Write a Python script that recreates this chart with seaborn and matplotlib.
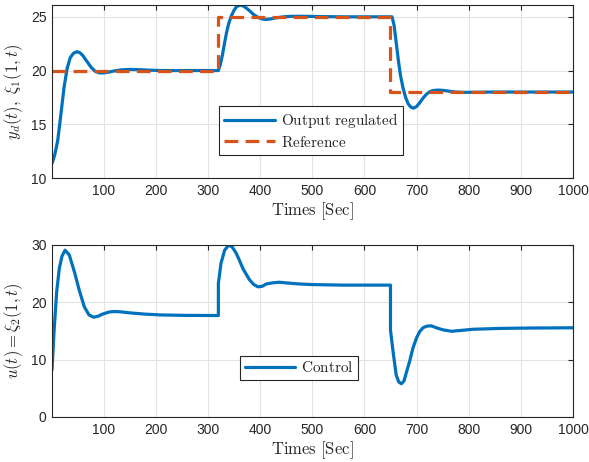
import matplotlib
matplotlib.use("Agg")
import matplotlib.pyplot as plt
import numpy as np
import pandas as pd
import seaborn as sns

# ---- data ----
t_out = [1, 6, 12, 18, 24, 30, 36, 42, 48, 54, 60, 68, 76, 84, 92, 100, 110, 120,
         135, 150, 165, 185, 210, 320,
         324, 328, 332, 336, 340, 345, 350, 355, 362, 368, 374, 380, 388, 396, 404,
         412, 420, 430, 445, 460, 480, 520, 560, 653,
         657, 661, 665, 669, 674, 679, 684, 689, 694, 700, 706, 712, 719, 726, 733,
         742, 752, 762, 775, 790, 810, 850, 1000]
y_out = [11.35, 12.1, 13.5, 15.9, 18.4, 20.2, 21.2, 21.6, 21.75, 21.68, 21.4, 20.85,
         20.3, 19.92, 19.78, 19.78, 19.86, 19.96, 20.07, 20.1, 20.09, 20.04, 20.0, 20.0,
         20.6, 21.5, 22.6, 23.6, 24.4, 25.1, 25.6, 25.95, 26.1, 26.0, 25.8, 25.55, 25.2,
         24.95, 24.8, 24.76, 24.8, 24.9, 25.0, 25.05, 25.05, 25.02, 25.0, 25.0,
         24.2, 22.6, 21.0, 19.6, 18.4, 17.5, 16.9, 16.6, 16.5, 16.65, 17.0, 17.4, 17.8,
         18.05, 18.15, 18.18, 18.15, 18.08, 18.0, 17.97, 17.98, 18.0, 18.0]

t_ref = [1, 320, 320, 650, 650, 1000]
y_ref = [20, 20, 25, 25, 18, 18]

t_ctl = [1, 5, 10, 15, 20, 26, 34, 44, 53, 63, 72, 81, 90, 98, 110, 120, 132, 146,
         178, 210, 260, 320,
         320, 325, 332, 340, 347, 354, 360, 367, 374, 380, 388, 396, 404, 412, 424,
         437, 455, 476, 500, 560, 650,
         650, 655, 661, 666, 671, 676, 680, 687, 693, 700, 706, 713, 720, 728, 740,
         751, 767, 785, 808, 860, 920, 1000]
u_ctl = [8.2, 15.0, 21.9, 25.9, 28.0, 29.1, 28.3, 25.3, 22.2, 19.2, 17.8, 17.4, 17.6,
         17.95, 18.3, 18.4, 18.35, 18.2, 17.95, 17.8, 17.72, 17.7,
         23.3, 26.8, 29.1, 30.0, 29.6, 28.6, 27.4, 25.9, 24.8, 23.9, 23.1, 22.7, 22.8,
         23.2, 23.4, 23.5, 23.35, 23.2, 23.1, 23.0, 23.0,
         15.2, 11.4, 7.3, 6.1, 5.8, 6.3, 7.6, 9.8, 12.0, 13.8, 14.9, 15.6, 15.85, 15.9,
         15.5, 15.2, 14.95, 15.1, 15.3, 15.45, 15.52, 15.56]

x_ticks = [100, 200, 300, 400, 500, 600, 700, 800, 900, 1000]
y1_ticks = [10, 15, 20, 25]
y2_ticks = [0, 10, 20, 30]

BLUE = "#0072BD"
ORANGE = "#D95319"
DARK = "#262626"

sns.set_theme(style="white")
plt.rcParams["font.family"] = ["Liberation Sans", "DejaVu Sans"]
plt.rcParams["mathtext.fontset"] = "cm"

df_out = pd.DataFrame({"t": t_out, "y": y_out})
df_ref = pd.DataFrame({"t": t_ref, "y": y_ref})
df_ctl = pd.DataFrame({"t": t_ctl, "u": u_ctl})

fig = plt.figure(figsize=(5.89, 4.62), dpi=100)
ax1 = fig.add_axes([52 / 589, 1 - 178 / 462, 521 / 589, 173 / 462])
ax2 = fig.add_axes([52 / 589, 1 - 417 / 462, 521 / 589, 172 / 462])

sns.lineplot(data=df_out, x="t", y="y", ax=ax1, estimator=None, sort=False,
             color=BLUE, linewidth=2.3, label=r"$\mathrm{Output\ regulated}$")
sns.lineplot(data=df_ref, x="t", y="y", ax=ax1, estimator=None, sort=False,
             color=ORANGE, linewidth=2.3, dashes=False, label=r"$\mathrm{Reference}$")
ax1.lines[-1].set_dashes([4.3, 2.3])
sns.lineplot(data=df_ctl, x="t", y="u", ax=ax2, estimator=None, sort=False,
             color=BLUE, linewidth=2.3, label=r"$\mathrm{Control}$")

for ax, yt in ((ax1, y1_ticks), (ax2, y2_ticks)):
    ax.set_xlim(1, 1000)
    ax.set_xticks(x_ticks)
    ax.set_yticks(yt)
    ax.grid(True, color="#e3e3e3", linewidth=0.8)
    ax.set_axisbelow(True)
    for s in ax.spines.values():
        s.set_color(DARK)
        s.set_linewidth(0.8)
    ax.tick_params(direction="in", length=3.5, width=0.8, color=DARK,
                   top=True, right=True, labelsize=10, labelcolor=DARK, pad=4)
    ax.set_xlabel(r"$\mathrm{Times\ [Sec]}$", fontsize=12, color=DARK, labelpad=2)

ax1.set_ylim(10, 26.1)
ax2.set_ylim(0, 30)
ax1.set_ylabel(r"$y_d(t),\ \xi_1(1,t)$", fontsize=12, color=DARK, labelpad=4)
ax2.set_ylabel(r"$u(t)=\xi_2(1,t)$", fontsize=12, color=DARK, labelpad=4)

leg1 = ax1.legend(loc="lower left", bbox_to_anchor=(0.3205, 0.133), fontsize=11,
                  frameon=True, fancybox=False, edgecolor=DARK, framealpha=1,
                  handlelength=3.3, borderpad=0.35, labelspacing=0.3,
                  handletextpad=0.4, borderaxespad=0)
leg1.get_frame().set_linewidth(0.8)
leg2 = ax2.legend(loc="lower left", bbox_to_anchor=((240 - 52) / 521, (417 - 380) / 172),
                  fontsize=11, frameon=True, fancybox=False, edgecolor=DARK,
                  framealpha=1, handlelength=3.3, borderpad=0.3,
                  handletextpad=0.4, borderaxespad=0)
leg2.get_frame().set_linewidth(0.8)

fig.savefig("out.png", dpi=100)
